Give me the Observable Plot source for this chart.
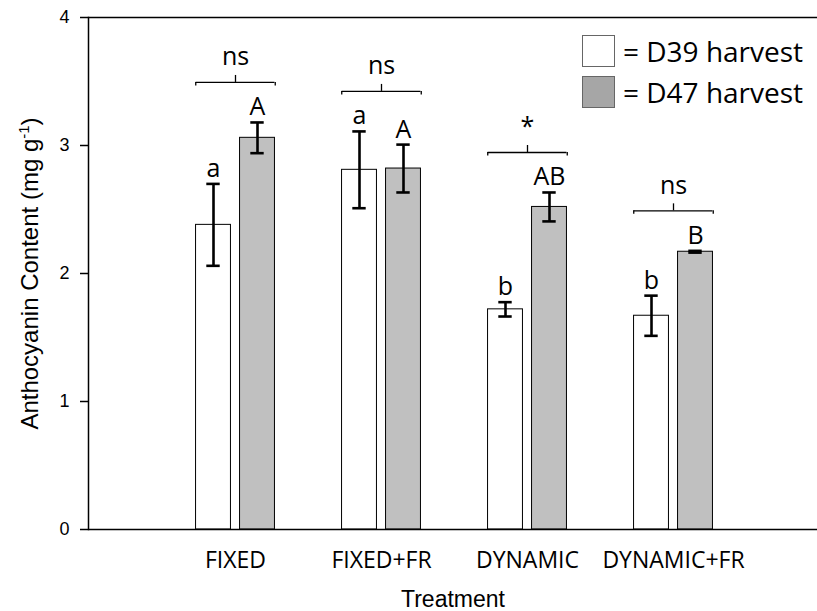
<!DOCTYPE html>
<html>
<head>
<meta charset="utf-8">
<script src="https://cdn.jsdelivr.net/npm/d3@7"></script>
<script src="https://cdn.jsdelivr.net/npm/@observablehq/plot@0.6"></script>
<style>
  html, body { margin: 0; padding: 0; background: #fff; }
  #wrap { position: relative; width: 817px; height: 611px; }
  #legend { position: absolute; left: 582px; top: 35px; font-family: "Open Sans", sans-serif; font-size: 28px; color: #000; }
  .row { display: flex; align-items: center; height: 32px; margin-bottom: 9px; }
  .sw { width: 31px; height: 30px; border: 1.5px solid #666; margin-right: 8px; box-sizing: content-box; }
</style>
</head>
<body>
<div id="wrap">
  <div id="chart"></div>
  <div id="legend"></div>
</div>
<script>
// ---- data ----
const categories = ["FIXED", "FIXED+FR", "DYNAMIC", "DYNAMIC+FR"];
const d39Mean = [2.38, 2.81, 1.72, 1.67];
const d39Se   = [0.32, 0.30, 0.056, 0.157];
const d47Mean = [3.06, 2.82, 2.52, 2.17];
const d47Se   = [0.12, 0.187, 0.113, 0.007];
const d39Letters = ["a", "a", "b", "b"];
const d47Letters = ["A", "A", "AB", "B"];
const significance = ["ns", "ns", "*", "ns"];
const seriesNames = ["= D39 harvest", "= D47 harvest"];
const yTicks = [0, 1, 2, 3, 4];

// ---- tables built from the arrays ----
const rows39 = categories.map((t, i) => ({t, v: d39Mean[i], se: d39Se[i], letter: d39Letters[i]}));
const rows47 = categories.map((t, i) => ({t, v: d47Mean[i], se: d47Se[i], letter: d47Letters[i]}));
const groups = categories.map((t, i) => ({t, top: Math.max(d39Mean[i] + d39Se[i], d47Mean[i] + d47Se[i]), sig: significance[i]}));

// ---- layout (styles) ----
const STEP = 146.6, HALF = STEP / 2, BAR = 35.5, GAP = 8.5, CAP = 14;
const OFF = GAP / 2 + BAR / 2;
const inset = (o, w) => ({insetLeft: HALF + o - w / 2, insetRight: HALF - o - w / 2});
const sans = "'Open Sans', sans-serif";
const arial = "'Liberation Sans', Arial, sans-serif";
const BR = -40;

function seriesMarks(rows, o, fill) {
  return [
    Plot.barY(rows, {x: "t", y: "v", fill, stroke: "#000", strokeWidth: 1, ...inset(o, BAR)}),
    Plot.ruleX(rows, {x: "t", y1: d => d.v - d.se, y2: d => d.v + d.se, dx: o, strokeWidth: 2.6, stroke: "#000"}),
    Plot.tickY(rows, {x: "t", y: d => d.v + d.se, strokeWidth: 2.6, stroke: "#000", ...inset(o, CAP)}),
    Plot.tickY(rows, {x: "t", y: d => d.v - d.se, strokeWidth: 2.6, stroke: "#000", ...inset(o, CAP)}),
    Plot.text(rows, {x: "t", y: d => d.v + d.se, text: "letter", dx: o, dy: -15, fontSize: 25, fontFamily: sans, fill: "#000"})
  ];
}

const chart = Plot.plot({
  width: 817,
  height: 611,
  marginLeft: 88,
  marginRight: 0,
  marginTop: 17,
  marginBottom: 82,
  style: {background: "#fff", color: "#000", overflow: "visible"},
  x: {type: "band", domain: categories, range: [160.7, 160.7 + STEP * categories.length], padding: 0, axis: null},
  y: {domain: [0, 4], axis: null},
  marks: [
    Plot.axisY({ticks: yTicks, tickFormat: d => String(d), tickSize: 8, tickPadding: 11, fontSize: 18, fontFamily: arial, strokeWidth: 1.5, label: null}),
    Plot.axisX({tickSize: 0, tickPadding: 22, fontSize: 23, fontFamily: sans, label: null}),
    ...seriesMarks(rows39, -OFF, "#ffffff"),
    ...seriesMarks(rows47, OFF, "#c0c0c0"),
    // significance brackets
    Plot.ruleY(groups, {x1: "t", x2: "t", y: "top", dy: BR, strokeWidth: 1.3, stroke: "#000", insetLeft: HALF - 39.75, insetRight: HALF - 39.75}),
    Plot.ruleX(groups, {x: "t", y1: "top", y2: "top", dx: -39.75, dy: BR, insetBottom: -3.5, strokeWidth: 1.3, stroke: "#000"}),
    Plot.ruleX(groups, {x: "t", y1: "top", y2: "top", dx: 39.75, dy: BR, insetBottom: -3.5, strokeWidth: 1.3, stroke: "#000"}),
    Plot.ruleX(groups, {x: "t", y1: "top", y2: "top", dy: BR, insetTop: -7, strokeWidth: 1.3, stroke: "#000"}),
    Plot.text(groups, {x: "t", y: "top", text: "sig", dy: BR - 25, fontSize: 25, fontFamily: sans, fill: "#000"}),
    // frame lines
    Plot.ruleY([0, 4], {strokeWidth: 1.5, stroke: "#000"}),
    Plot.frame({anchor: "left", strokeWidth: 1.5, stroke: "#000"}),
    // axis titles
    Plot.text(["Anthocyanin Content (mg g-1)"], {text: d => d, frameAnchor: "left", dx: -68, rotate: -90, textAnchor: "middle", lineAnchor: "top", fontSize: 24, fontFamily: arial, fill: "#000"}),
    Plot.text(["Treatment"], {text: d => d, frameAnchor: "bottom", dy: 61, lineAnchor: "top", fontSize: 23, fontFamily: arial, fill: "#000"})
  ]
});
document.getElementById("chart").appendChild(chart);

// superscript for the unit
d3.select(chart).selectAll("text").each(function () {
  if (this.textContent === "Anthocyanin Content (mg g-1)") {
    const t = d3.select(this);
    t.text("");
    t.append("tspan").text("Anthocyanin Content (mg g");
    t.append("tspan").attr("dy", "-9").attr("font-size", "15").text("-1");
    t.append("tspan").attr("dy", "9").text(")");
  }
});

// legend
const legend = d3.select("#legend");
const swatchFill = ["#ffffff", "#a6a6a6"];
seriesNames.forEach((name, i) => {
  const row = legend.append("div").attr("class", "row");
  row.append("div").attr("class", "sw").style("background", swatchFill[i]);
  row.append("span").text(name);
});
</script>
</body>
</html>
